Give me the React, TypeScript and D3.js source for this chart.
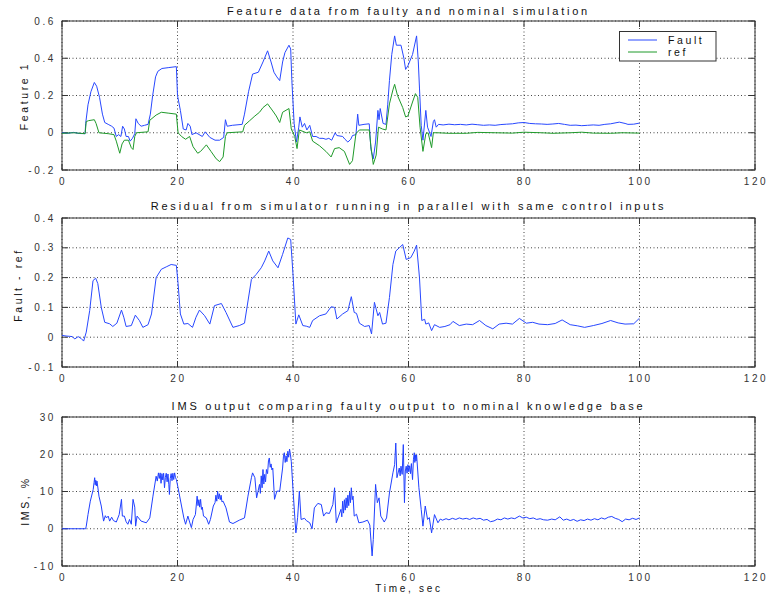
import React from 'react';
import { scaleLinear, line } from 'd3';

// ---- data ----
const xTicks = [0, 20, 40, 60, 80, 100, 120];

const faultData: [number, number][] = [
  [0, 0], [1, -0.003], [2, 0.002], [3, -0.004], [4, -0.005], [4.1, 0.05], [4.5, 0.15], [5, 0.22], [5.6, 0.27],
  [6, 0.25], [6.5, 0.19], [7, 0.1], [7.4, 0.055], [8, 0.045], [8.6, 0.035], [9, 0.025], [9.4, -0.02], [9.8, -0.01],
  [10.2, -0.02], [10.5, 0.035], [10.8, 0.02], [11.1, -0.02], [11.5, -0.02], [11.8, -0.045], [12.2, -0.03],
  [12.6, -0.005], [12.8, 0.075], [13.2, 0.05], [13.7, 0.035], [14.3, 0.04], [14.9, 0.045], [15.3, 0.1], [15.7, 0.2],
  [16.2, 0.3], [16.6, 0.33], [17.3, 0.345], [18.5, 0.35], [19.8, 0.355], [20, 0.2], [20.5, 0.12], [21, 0.02],
  [21.5, 0.015], [21.8, 0.05], [22.2, 0.035], [22.5, -0.01], [23.2, 0.0], [24.3, -0.02], [24.8, 0.005],
  [25.6, -0.025], [26.5, -0.04], [27.3, -0.04], [28, -0.025], [28.3, 0.07], [28.6, 0.035], [29.5, 0.04],
  [31.2, 0.045], [31.6, 0.1], [32.3, 0.22], [33, 0.315], [34, 0.325], [34.8, 0.38], [35.6, 0.44], [36.2, 0.38],
  [36.7, 0.325], [37.2, 0.3], [37.7, 0.28], [38.2, 0.38], [38.6, 0.43], [39.3, 0.47], [39.6, 0.45], [39.8, 0.28],
  [40.2, 0.05], [40.6, -0.05], [41, 0.03], [41.2, 0.085], [41.6, 0.03], [42, 0.05], [42.4, 0.015], [42.9, 0.04],
  [43.4, -0.02], [44, -0.02], [44.6, -0.03], [45.2, -0.03], [45.7, -0.035], [46.2, -0.03], [46.7, -0.04],
  [47.3, 0.0], [47.6, -0.015], [48.6, -0.02], [49, -0.035], [49.5, -0.05], [50, -0.035], [50.3, -0.015],
  [50.9, -0.01], [51.2, 0.1], [51.4, 0.04], [52.3, 0.045], [53.2, 0.048], [53.5, -0.09], [53.9, -0.14],
  [54.3, -0.05], [54.7, 0.12], [54.9, 0.07], [55.1, 0.13], [55.6, 0.05], [56.1, 0.045], [56.4, 0.15], [56.7, 0.28],
  [57.1, 0.42], [57.6, 0.52], [57.9, 0.47], [58.7, 0.47], [59.2, 0.4], [59.5, 0.34], [59.9, 0.36], [60.7, 0.42],
  [61.4, 0.52], [61.7, 0.38], [61.9, 0.24], [62.2, 0.04], [62.5, -0.04], [63, 0.12], [63.3, 0.03], [63.9, -0.02],
  [64.3, 0.06], [64.5, 0.07], [64.8, 0.03], [65.2, 0.045], [66, 0.042], [67, 0.046], [68, 0.043], [69, 0.045],
  [70, 0.042], [71, 0.046], [72, 0.043], [73, 0.04], [74, 0.042], [75, 0.04], [76, 0.044], [77, 0.046],
  [78, 0.048], [79, 0.053], [80, 0.055], [81, 0.05], [82, 0.048], [83, 0.047], [84, 0.045], [85, 0.047],
  [86, 0.05], [87, 0.045], [88, 0.04], [89, 0.041], [90, 0.038], [91, 0.04], [92, 0.042], [93, 0.04],
  [94, 0.045], [95, 0.048], [96.5, 0.057], [97.5, 0.05], [98, 0.045], [99, 0.046], [100, 0.052],
];

const refData: [number, number][] = [
  [0, -0.003], [2, 0.0], [4, -0.005], [4.2, 0.06], [4.6, 0.065], [5.6, 0.07], [5.9, 0.05], [6.4, 0.0], [8, -0.005],
  [9, -0.01], [9.4, -0.045], [10, -0.11], [10.4, -0.06], [10.8, -0.04], [11.5, -0.04], [12, -0.08], [12.3, -0.09],
  [12.6, -0.02], [12.9, 0.0], [14.9, 0.005], [15.2, 0.067], [16.3, 0.095], [17.2, 0.11], [18.5, 0.105], [19.8, 0.1],
  [20.1, 0.0], [20.7, -0.02], [21.4, -0.035], [22.1, -0.02], [22.7, -0.075], [23.5, -0.11], [24, -0.1],
  [25, -0.065], [25.8, -0.1], [26.7, -0.14], [27.3, -0.155], [27.9, -0.13], [28.3, -0.02], [28.6, 0.0],
  [31.3, 0.005], [31.6, 0.04], [32.5, 0.065], [33.4, 0.09], [34.2, 0.11], [34.8, 0.135], [35.6, 0.155],
  [36.5, 0.117], [37.1, 0.09], [37.7, 0.055], [38.2, 0.11], [39.3, 0.13], [39.7, 0.02], [40.3, -0.02],
  [40.7, -0.085], [41.1, 0.015], [42.3, 0.0], [42.9, 0.005], [43.4, -0.045], [44.6, -0.07], [45.7, -0.1],
  [46.6, -0.13], [47.2, -0.085], [48, -0.08], [48.9, -0.1], [49.8, -0.17], [50.3, -0.15], [50.9, -0.005],
  [51.5, 0.015], [53.2, 0.015], [53.5, -0.075], [53.9, -0.17], [54.4, -0.12], [54.8, 0.03], [55.5, 0.02],
  [56.1, 0.015], [56.7, 0.155], [57.3, 0.23], [57.6, 0.26], [58.1, 0.2], [59, 0.135], [59.5, 0.085], [59.9, 0.09],
  [60.7, 0.165], [61.2, 0.21], [61.6, 0.19], [62, 0.03], [62.5, -0.1], [63, -0.005], [63.4, 0.0], [64, -0.08],
  [64.3, 0.0], [65, 0.0], [67, -0.003], [70, -0.003], [72, 0.002], [75, 0.0], [78, -0.002], [80, 0.003],
  [83, 0.0], [85, -0.003], [88, 0.0], [90, 0.003], [92, -0.002], [95, -0.003], [97, 0.0], [100, -0.002],
];

const residualData: [number, number][] = [
  [0, 0.006], [0.7, 0.004], [1.3, 0.003], [1.8, 0.002], [2.2, -0.006], [2.8, 0.002], [3.3, -0.004], [3.75, -0.013],
  [4.2, 0.017], [4.8, 0.09], [5.37, 0.19], [5.83, 0.198], [6.2, 0.18], [6.8, 0.1], [7.4, 0.05], [8.25, 0.045],
  [8.8, 0.036], [9.5, 0.047], [10.3, 0.091], [10.7, 0.067], [11.1, 0.036], [12, 0.039], [12.7, 0.074],
  [13.4, 0.056], [14, 0.033], [14.9, 0.042], [15.5, 0.078], [16.3, 0.2], [17.2, 0.228], [18.05, 0.236],
  [18.9, 0.244], [19.8, 0.241], [20.1, 0.18], [20.5, 0.078], [21.1, 0.044], [21.8, 0.046], [22.6, 0.033],
  [23.2, 0.067], [23.8, 0.091], [24.7, 0.072], [25.6, 0.044], [26.4, 0.106], [27.6, 0.113], [28.4, 0.083],
  [29.6, 0.033], [30.7, 0.039], [31.6, 0.047], [32.8, 0.194], [33.6, 0.21], [34.5, 0.233], [35.1, 0.256],
  [35.8, 0.289], [36.5, 0.256], [37.4, 0.233], [38.2, 0.278], [39.1, 0.333], [39.6, 0.328], [40, 0.21],
  [40.5, 0.044], [41, 0.075], [41.7, 0.039], [42.3, 0.037], [42.9, 0.033], [43.4, 0.056], [44.6, 0.072],
  [45.7, 0.078], [46.6, 0.102], [47.2, 0.1], [47.6, 0.061], [48.6, 0.078], [49.5, 0.089], [50.1, 0.136],
  [50.6, 0.083], [51, 0.08], [51.5, 0.047], [52.4, 0.036], [53.2, 0.039], [53.6, 0.011], [54.1, 0.117],
  [54.7, 0.072], [55, 0.083], [55.5, 0.044], [56.1, 0.047], [56.7, 0.133], [57.3, 0.244], [57.8, 0.289],
  [58.4, 0.3], [59, 0.311], [59.6, 0.261], [60.4, 0.267], [61, 0.289], [61.4, 0.309], [61.9, 0.2], [62.3, 0.056],
  [62.8, 0.06], [63, 0.044], [63.5, 0.048], [64, 0.022], [64.5, 0.042], [65.4, 0.033], [66.3, 0.036],
  [67.2, 0.042], [67.7, 0.053], [68.8, 0.039], [70, 0.044], [71.1, 0.042], [72.3, 0.056], [73.4, 0.039],
  [74.6, 0.028], [75.7, 0.044], [76.9, 0.047], [78, 0.044], [79.2, 0.063], [80.4, 0.047], [81.5, 0.05],
  [82.6, 0.044], [84.1, 0.042], [85.4, 0.046], [86.6, 0.058], [88, 0.042], [89.3, 0.038], [90.5, 0.033],
  [92, 0.039], [93.5, 0.046], [95, 0.056], [96.3, 0.048], [97.5, 0.044], [99, 0.045], [100, 0.064],
];

const imsData: [number, number][] = [
  [0, 0], [4.1, 0], [4.2, 0.7], [4.5, 3.8], [4.9, 7.4], [5.4, 10.5], [5.55, 12.4], [5.66, 13.7], [5.75, 11.8],
  [5.85, 13.0], [5.95, 11.5], [6.05, 12.8], [6.2, 11.2], [6.4, 8.75], [6.8, 6.1], [7.2, 2.05], [7.5, 3.5],
  [7.7, 2.9], [8, 3.4], [8.25, 2.05], [8.6, 3.1], [8.9, 2.2], [9.4, 1.8], [9.9, 3.8], [10.3, 7.9], [10.45, 3.4],
  [10.8, 3.4], [11.1, 1.9], [11.4, 1.2], [11.7, 2.5], [12, 1.2], [12.3, 7.9], [12.6, 5.8], [12.75, 0.7], [13, 3.4],
  [13.7, 2.05], [14.6, 1.6], [15.2, 2.9], [15.75, 8.75], [16.3, 14.1], [16.5, 12.8], [16.7, 15.0], [16.85, 13.5],
  [17.0, 15.0], [17.15, 12.2], [17.3, 14.8], [17.45, 13.1], [17.6, 14.9], [17.75, 11.0], [17.9, 13.8],
  [18.05, 14.9], [18.2, 12.6], [18.35, 14.7], [18.5, 11.8], [18.6, 9.2], [18.75, 13.5], [18.9, 14.8],
  [19.05, 12.9], [19.2, 14.9], [19.35, 13.2], [19.5, 15.0], [19.65, 13.8], [19.8, 13.2], [20.1, 11.0],
  [20.7, 6.1], [21.1, 2.9], [21.4, 1.2], [21.8, 3.4], [22.1, 1.8], [22.4, 0.3], [22.7, 2.5], [23.1, 3.8],
  [23.4, 8.75], [23.55, 6.2], [23.7, 7.8], [23.85, 5.8], [24.0, 7.9], [24.15, 5.2], [24.3, 5.8], [24.5, 3.4],
  [25, 2.9], [25.4, 1.2], [25.7, 2.5], [26.2, 6.1], [26.5, 7.0], [26.65, 9.0], [26.8, 7.4], [26.95, 10.1],
  [27.1, 8.0], [27.25, 9.4], [27.4, 7.8], [27.55, 9.0], [27.7, 7.2], [27.9, 7.4], [28.4, 5.6], [29, 1.8],
  [29.6, 1.4], [30.7, 2.3], [31.6, 2.9], [32.2, 8.75], [32.8, 13.7], [33, 15.0], [33.4, 13.7], [33.7, 8.3],
  [34.2, 11.9], [34.35, 9.5], [34.5, 14.2], [34.65, 11.0], [34.8, 15.9], [34.95, 12.0], [35.1, 14.6],
  [35.25, 12.6], [35.4, 15.9], [35.6, 14.8], [35.75, 18.2], [35.9, 19.0], [36.05, 16.5], [36.2, 17.4],
  [36.35, 15.8], [36.5, 16.3], [36.8, 7.9], [37.2, 10.1], [37.7, 10.1], [38.2, 16.3], [38.35, 19.5],
  [38.5, 20.4], [38.65, 17.8], [38.8, 19.6], [38.95, 18.0], [39.1, 20.8], [39.25, 19.2], [39.4, 21.4],
  [39.55, 20.0], [39.7, 18.1], [40, 10.5], [40.3, 3.4], [40.5, -1.1], [40.8, 3.0], [41.1, 10.1], [41.4, 2.5],
  [42, 2.8], [42.3, 2.2], [42.9, 1.6], [43.3, 0], [43.7, 5.6], [44.3, 6.8], [44.9, 6.5], [45.3, 3.4], [45.7, 4.3],
  [46.3, 4.1], [46.9, 6.5], [47.2, 11.0], [47.5, 1.6], [47.9, 3.4], [48.3, 5.2], [48.45, 3.2], [48.6, 7.4],
  [48.75, 4.2], [48.9, 7.8], [49.05, 5.0], [49.2, 8.3], [49.35, 5.6], [49.5, 9.0], [49.65, 6.2], [49.8, 9.8],
  [49.95, 7.0], [50.1, 11.0], [50.25, 7.8], [50.4, 8.75], [50.6, 3.4], [51, 3.9], [51.4, 1.6], [52.1, 1.8],
  [52.9, 2.3], [53.3, 1.0], [53.7, -7.3], [53.9, -2.9], [54.3, 11.9], [54.6, 7.0], [54.9, 8.3], [55.2, 3.4],
  [55.8, 1.8], [56.2, 2.9], [56.7, 9.6], [57.3, 15.0], [57.6, 17.2], [57.8, 23.0], [58, 13.7], [58.4, 16.3],
  [58.55, 14.2], [58.7, 16.8], [58.9, 14.6], [59.1, 22.6], [59.3, 7.0], [59.45, 15.5], [59.6, 16.8],
  [59.75, 14.9], [59.9, 17.2], [60.05, 15.3], [60.2, 16.9], [60.35, 14.8], [60.5, 17.5], [60.7, 13.2],
  [60.85, 18.5], [61, 20.4], [61.1, 17.8], [61.2, 19.8], [61.3, 18.2], [61.4, 19.9], [61.8, 11.0], [62.2, 5.2],
  [62.5, 0.7], [62.9, 6.1], [63.3, 2.5], [63.6, 3.0], [64, -1.1], [64.5, 3.8], [65.1, 1.6], [65.5, 2.6],
  [65.9, 2.3], [66.5, 2.7], [67, 2.4], [67.6, 2.8], [68.2, 2.5], [68.8, 2.9], [69.4, 2.6], [70, 2.8],
  [70.6, 2.5], [71.2, 2.9], [71.8, 2.6], [72.4, 2.8], [73, 2.3], [73.6, 2.5], [74.2, 1.9], [74.8, 2.1],
  [75.4, 2.6], [76, 2.4], [76.6, 2.9], [77.2, 2.6], [77.8, 2.9], [78.4, 2.7], [79.2, 3.4], [79.8, 2.9],
  [80.4, 3.1], [81, 2.7], [81.6, 2.9], [82.2, 2.5], [82.8, 2.7], [83.4, 2.4], [84.1, 2.3], [84.8, 2.6],
  [85.4, 2.4], [86.2, 3.2], [86.8, 2.3], [87.4, 2.6], [88, 2.2], [88.6, 2.5], [89.2, 2.0], [89.8, 2.4],
  [90.4, 2.2], [91, 2.6], [91.6, 2.3], [92.2, 2.7], [92.8, 2.4], [93.4, 2.9], [94, 2.6], [94.6, 3.1],
  [95.2, 3.3], [95.8, 2.8], [96.4, 2.5], [97, 1.9], [97.6, 2.6], [98.2, 2.4], [98.8, 2.8], [99.4, 2.5], [100, 2.9],
];

const panels = [
  {
    title: 'Feature data from faulty and nominal simulation',
    yLabel: 'Feature 1',
    top: 21,
    yDomain: [-0.2, 0.6],
    yTicks: [-0.2, 0, 0.2, 0.4, 0.6],
    fmt: (v: number) => (v === 0 ? '0' : v.toFixed(1)),
    titleDy: -6,
    labelX: 28,
    labelY: 96,
    series: [
      { name: 'Fault', data: faultData, color: '#2848ff' },
      { name: 'ref', data: refData, color: '#1f9a2a' },
    ],
    legend: true,
  },
  {
    title: 'Residual from simulator running in parallel with same control inputs',
    yLabel: 'Fault - ref',
    top: 218,
    yDomain: [-0.1, 0.4],
    yTicks: [-0.1, 0, 0.1, 0.2, 0.3, 0.4],
    fmt: (v: number) => (v === 0 ? '0' : v.toFixed(1)),
    titleDy: -8,
    labelX: 21.5,
    labelY: 285,
    series: [{ name: 'residual', data: residualData, color: '#2848ff' }],
    legend: false,
  },
  {
    title: 'IMS output comparing faulty output to nominal knowledge base',
    yLabel: 'IMS, %',
    top: 417,
    yDomain: [-10, 30],
    yTicks: [-10, 0, 10, 20, 30],
    fmt: (v: number) => String(v),
    titleDy: -7,
    labelX: 29,
    labelY: 501,
    series: [{ name: 'IMS', data: imsData, color: '#2040ff' }],
    legend: false,
  },
];

const left = 62;
const right = 755;
const plotH = 149;
const font = 'Liberation Sans, Arial, Helvetica, sans-serif';
const axisColor = '#333';

const Panel = ({ p }: { p: (typeof panels)[number] }) => {
  const x = scaleLinear().domain([0, 120]).range([left, right]);
  const y = scaleLinear().domain(p.yDomain).range([p.top + plotH, p.top]);
  const bottom = p.top + plotH;
  const path = line<[number, number]>()
    .x(d => x(d[0]))
    .y(d => y(d[1]));

  return (
    <g>
      {/* grid */}
      {xTicks.map(t => (
        <line key={'gx' + t} x1={x(t)} x2={x(t)} y1={p.top} y2={bottom}
          stroke="#444" strokeWidth={1} strokeDasharray="1,2.5" />
      ))}
      {p.yTicks.map(t => (
        <line key={'gy' + t} x1={left} x2={right} y1={y(t)} y2={y(t)}
          stroke="#444" strokeWidth={1} strokeDasharray="1,2.5" />
      ))}
      {/* inward ticks */}
      {xTicks.map(t => (
        <g key={'tx' + t}>
          <line x1={x(t)} x2={x(t)} y1={bottom} y2={bottom - 6} stroke={axisColor} />
          <line x1={x(t)} x2={x(t)} y1={p.top} y2={p.top + 6} stroke={axisColor} />
        </g>
      ))}
      {p.yTicks.map(t => (
        <g key={'ty' + t}>
          <line x1={left} x2={left + 6} y1={y(t)} y2={y(t)} stroke={axisColor} />
          <line x1={right} x2={right - 6} y1={y(t)} y2={y(t)} stroke={axisColor} />
        </g>
      ))}
      <rect x={left} y={p.top} width={right - left} height={plotH} fill="none" stroke={axisColor} strokeWidth={1} />

      {/* data */}
      {p.series.map(s => (
        <path key={s.name} d={path(s.data) || ''} fill="none" stroke={s.color} strokeWidth={1} />
      ))}

      {/* tick labels */}
      {xTicks.map(t => (
        <text key={'lx' + t} x={x(t) + 1} y={bottom + 14.5} textAnchor="middle"
          fontSize={10} letterSpacing={2.6} fill="#333" fontFamily={font}>{t}</text>
      ))}
      {p.yTicks.map(t => (
        <text key={'ly' + t} x={left - 6} y={y(t) + 3.5} textAnchor="end"
          fontSize={10} letterSpacing={2.6} fill="#333" fontFamily={font}>{p.fmt(t)}</text>
      ))}

      {/* title and y label */}
      <text x={(left + right) / 2} y={p.top + p.titleDy} textAnchor="middle" fontSize={11}
        letterSpacing={2.78} fill="#111" fontFamily={font}>{p.title}</text>
      <text transform={`translate(${p.labelX},${p.labelY}) rotate(-90)`} textAnchor="middle"
        fontSize={10.5} letterSpacing={2.6} fill="#111" fontFamily={font}>{p.yLabel}</text>

      {p.legend && (
        <g>
          <rect x={619.5} y={31.5} width={96.5} height={29.5} fill="#fff" stroke={axisColor} />
          {p.series.map((s, i) => (
            <g key={'lg' + s.name}>
              <line x1={628} x2={657} y1={40 + i * 12} y2={40 + i * 12} stroke={s.color} />
              <text x={668} y={44 + i * 12} fontSize={10.5} letterSpacing={2.6} fill="#111"
                fontFamily={font}>{s.name}</text>
            </g>
          ))}
        </g>
      )}
    </g>
  );
};

export default function App() {
  return (
    <div style={{ position: 'absolute', left: 0, top: 0 }}>
      <svg width={770} height={596} style={{ display: 'block', background: '#fff' }}>
        {panels.map(p => (
          <Panel key={p.title} p={p} />
        ))}
        <text x={409} y={591.5} textAnchor="middle" fontSize={10} letterSpacing={2.7} fill="#111"
          fontFamily={font}>Time, sec</text>
      </svg>
    </div>
  );
}
